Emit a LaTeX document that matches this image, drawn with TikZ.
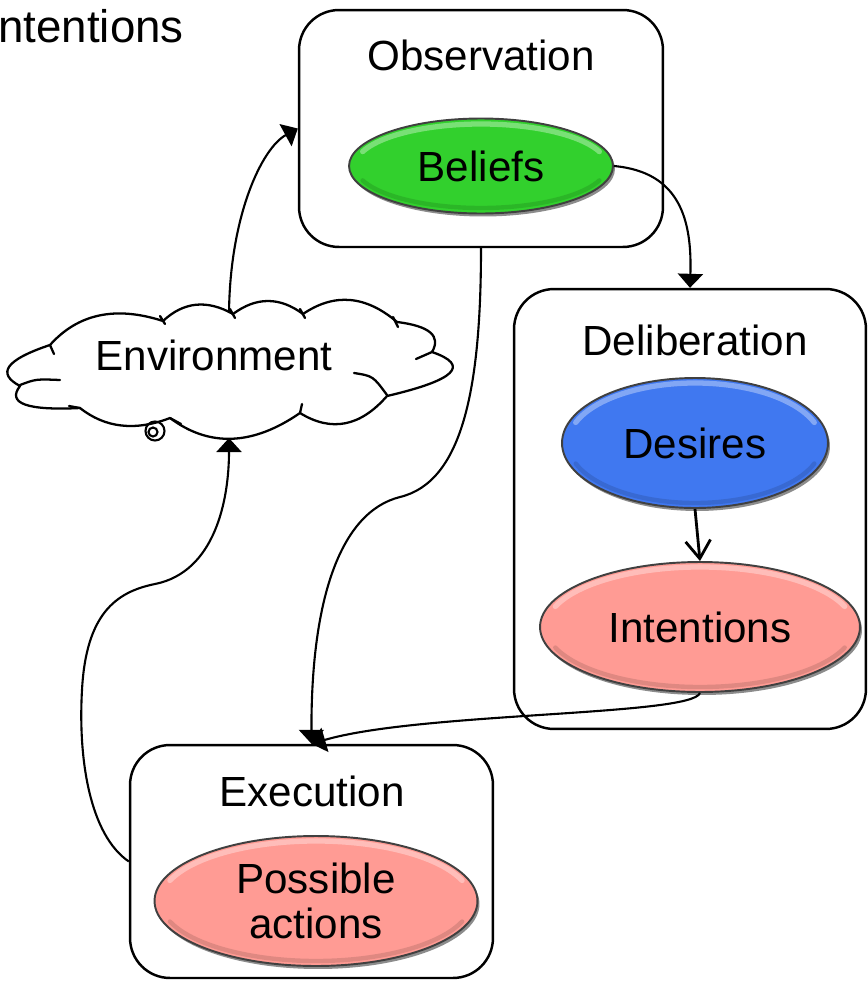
\documentclass[tikz,border=0pt]{standalone}
\usepackage{fontspec}
\setmainfont{Liberation Sans}
\usetikzlibrary{shapes.geometric,arrows.meta,calc,shadows}

\definecolor{beliefgreen}{RGB}{50,208,45}
\definecolor{desireblue}{RGB}{64,120,240}
\definecolor{intentpink}{RGB}{255,155,148}

\tikzset{
  bigfont/.style={font=\fontsize{24}{25.6}\selectfont},
  stagebox/.style={rectangle, draw=black, line width=1.4pt, rounded corners=0.8cm, inner sep=0pt},
  bubble/.style={ellipse, draw=black!75, line width=1.1pt, inner sep=0pt, align=center, bigfont,
    drop shadow={shadow xshift=0.04cm, shadow yshift=-0.06cm, opacity=0.45, fill=black}},
  flow/.style={line width=1.2pt, -{Triangle[length=0.28cm,width=0.5cm]}},
  cloudline/.style={line width=1.3pt, line join=round, line cap=round},
}

% one lobe of the cloud outline: from #1 to #3, bulging towards #2
\newcommand{\lobe}[3]{.. controls ($(#1)!0.6667!(#2)$) and ($(#3)!0.6667!(#2)$) .. (#3)}

% bevel highlight and shade inside an ellipse node
\newcommand{\bevel}[4]{%
  \draw[white, line width=3pt, line cap=round, opacity=0.35]
    ($(#1.center)+(160:#2cm and #3cm)$) arc[start angle=160, end angle=20, x radius=#2cm, y radius=#3cm];
  \draw[#4!65!black, line width=2.5pt, line cap=round, opacity=0.35]
    ($(#1.center)+(200:#2cm and #3cm)$) arc[start angle=200, end angle=340, x radius=#2cm, y radius=#3cm];
}

\begin{document}
\begin{tikzpicture}[x=0.02cm, y=-0.02cm]
  \clip (0,0) rectangle (868,981);
  \fill[white] (0,0) rectangle (868,981);

  % stage boxes
  \node[stagebox, minimum width=7.28cm, minimum height=4.74cm] (obs) at (481,128.5) {};
  \node[stagebox, minimum width=7.04cm, minimum height=8.8cm] (delib) at (690,509) {};
  \node[stagebox, minimum width=7.26cm, minimum height=4.66cm] (exec) at (311.5,861.5) {};

  \node[bigfont, anchor=base] (obs-title) at (481,70) {Observation};
  \node[bigfont, anchor=base] (delib-title) at (695,355) {Deliberation};
  \node[bigfont, anchor=base] (exec-title) at (312,806) {Execution};
  \node[font=\fontsize{26}{28}\selectfont, anchor=base west, inner sep=0pt] (stray) at (-2,42) {ntentions};

  % mental-state ellipses
  \node[bubble, fill=beliefgreen, minimum width=5.28cm, minimum height=1.9cm] (beliefs) at (481,166) {Beliefs};
  \bevel{beliefs}{2.52}{0.84}{beliefgreen}
  \node[bubble, fill=desireblue, minimum width=5.32cm, minimum height=2.6cm] (desires) at (695,443) {Desires};
  \bevel{desires}{2.54}{1.2}{desireblue}
  \node[bubble, fill=intentpink, minimum width=6.4cm, minimum height=2.6cm] (intentions) at (700,627) {Intentions};
  \bevel{intentions}{3.08}{1.2}{intentpink}
  \node[bubble, fill=intentpink, minimum width=6.46cm, minimum height=2.6cm] (actions) at (316,901) {Possible\\actions};
  \bevel{actions}{3.11}{1.2}{intentpink}

  % environment cloud
  \draw[cloudline, fill=white] (20,386)
    \lobe{20,386}{-16,367}{50,345}
    \lobe{50,345}{92,298}{163,321}
    \lobe{163,321}{194,292}{233,314}
    \lobe{233,314}{268,288}{303,314}
    \lobe{303,314}{350,282}{397,322}
    \lobe{397,322}{446,328}{432,352}
    \lobe{432,352}{490,372}{387,396}
    \lobe{387,396}{347,442}{300,413}
    \lobe{300,413}{229,462}{170,418}
    \lobe{170,418}{118,438}{80,408}
    \lobe{80,408}{0,412}{20,386} -- cycle;
  % inner strokes of the cloud lobes
  \draw[cloudline] (20,385) .. controls (36,379) .. (60,380);
  \draw[cloudline] (50,345) -- (54,354);
  \draw[cloudline] (160,316) -- (165,324);
  \draw[cloudline] (230,309) -- (235,318);
  \draw[cloudline] (300,309) -- (305,318);
  \draw[cloudline] (393,317) -- (398,327);
  \draw[cloudline] (432,352) -- (416,359);
  \draw[cloudline] (354,373) .. controls (373,376) .. (387,395);
  \draw[cloudline] (300,413) -- (302,404);
  \draw[cloudline] (170,418) -- (181,424);
  \draw[cloudline] (80,408) -- (69,406);
  \draw[line width=1.2pt] (155,431) circle[radius=0.19cm];
  \draw[line width=1.2pt] (153,432) circle[radius=0.09cm];
  \coordinate (env-n) at (229,313);
  \coordinate (env-s) at (229,438);
  \node[bigfont, anchor=base] (env) at (214,370) {Environment};

  % connectors
  \draw[flow] (env-n) .. controls (230,215) and (262,148) .. (obs.west);
  \draw[flow] (beliefs.east) .. controls (680,172) and (692,220) .. (delib.north);
  \draw[flow] (obs.south) .. controls (481,390) and (462,482) .. (400,497)
                          .. controls (340,512) and (311,600) .. (exec.north);
  \draw[flow] (intentions.south) .. controls (692,716) and (420,712) .. (exec.north);
  \draw[flow] (exec.west) .. controls (90,835) and (78,760) .. (82,690)
                          .. controls (86,615) and (115,592) .. (155,584)
                          .. controls (215,572) and (229,500) .. (env-s);
  \draw[line width=1.6pt, -{Straight Barb[length=0.36cm,width=0.5cm]}] (desires.south) -- (intentions.north);
\end{tikzpicture}
\end{document}
